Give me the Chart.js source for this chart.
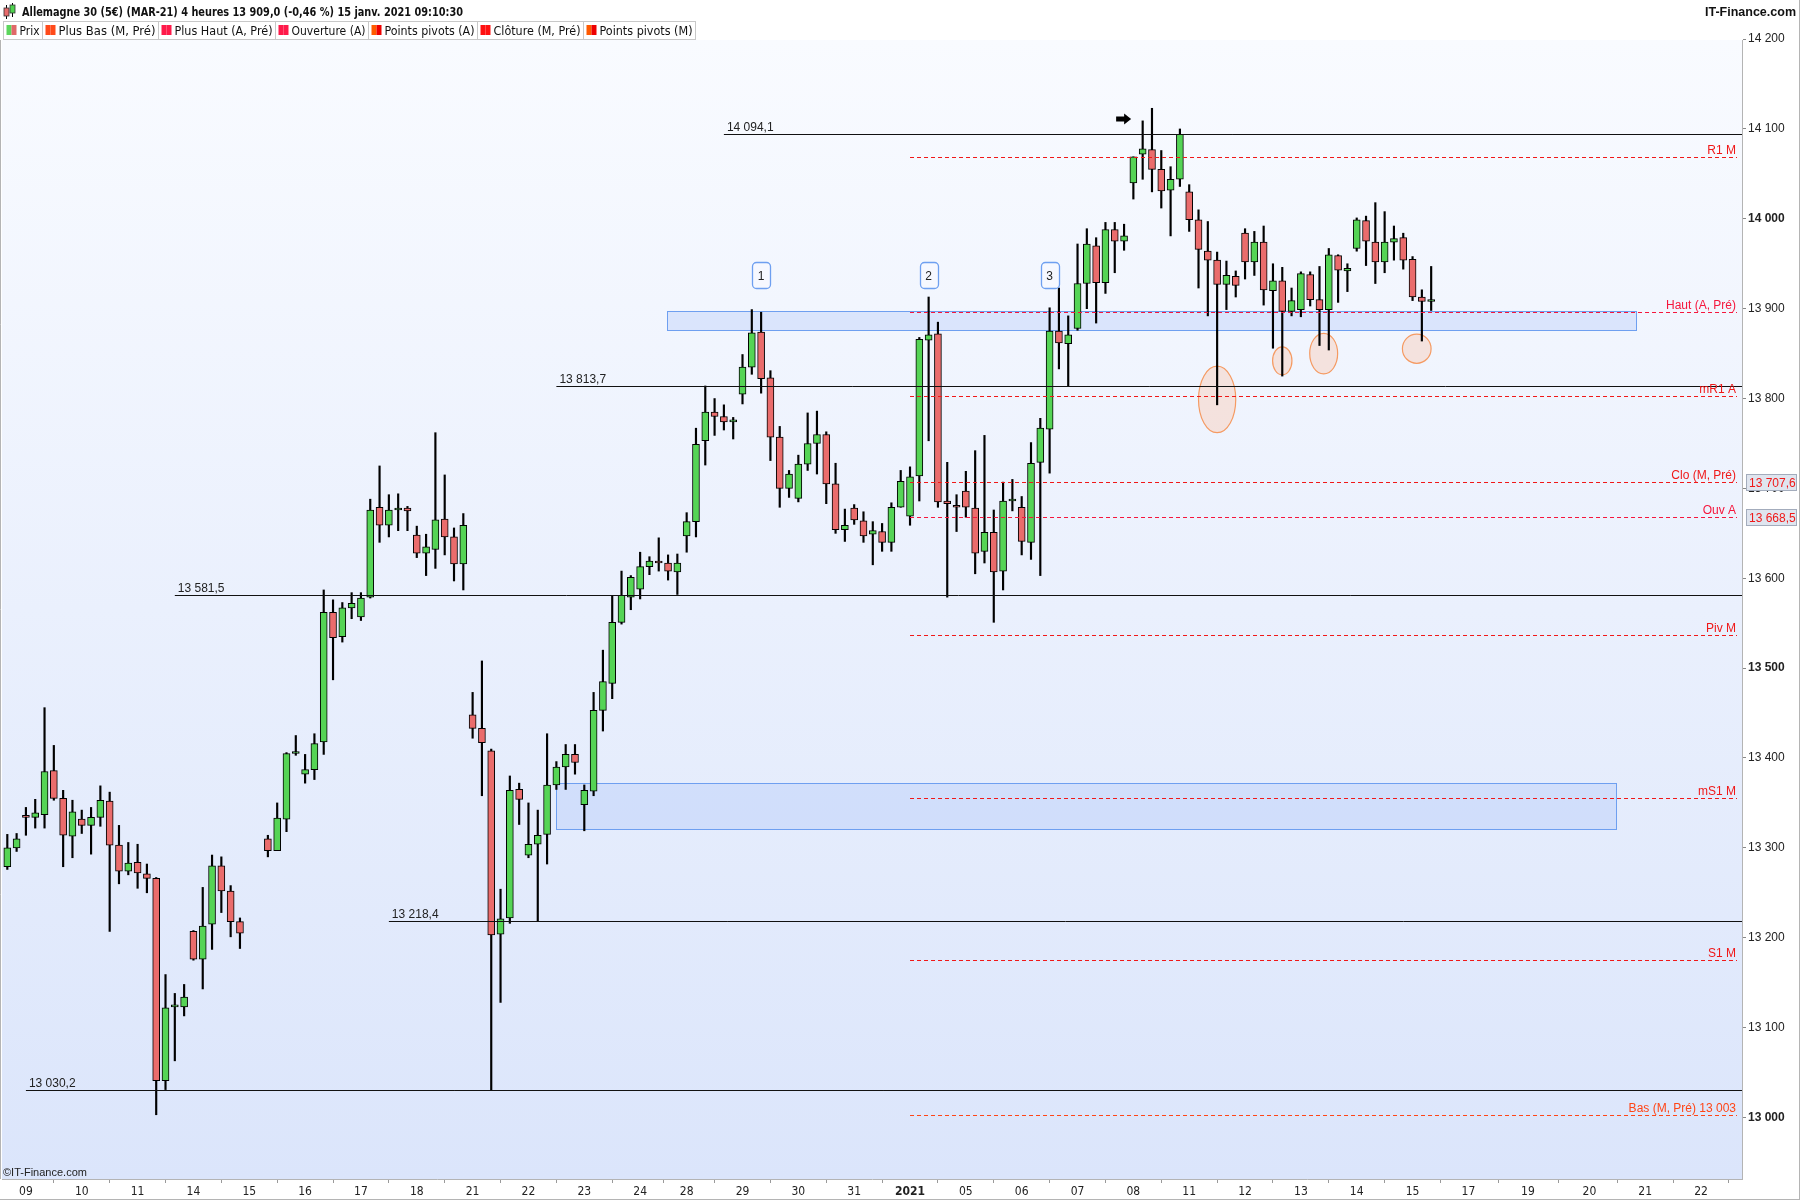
<!DOCTYPE html>
<html>
<head>
<meta charset="utf-8">
<script src="https://cdn.jsdelivr.net/npm/chart.js@4.4.1/dist/chart.umd.min.js"></script>
<style>
  html, body { margin: 0; padding: 0; background: #fff; }
  #wrap { width: 1800px; height: 1200px; position: relative; }
</style>
</head>
<body>
<div id="wrap"><canvas id="chart" width="1800" height="1200"></canvas></div>
<script>
// 4h candles, x = candle slot (6 per trading day)
const slots = [0,1,2,3,4,5,6,7,8,9,10,11,12,13,14,15,16,17,18,19,20,21,22,23,24,25,
  28,29,30,31,32,33,34,35,36,37,38,39,40,41,42,43,44,45,46,47,48,49,
  50,51,52,53,54,55,56,57,58,59,60,61,62,63,64,65,66,67,68,69,70,71,72,
  73,74,75,76,77,78,79,80,81,82,83,84,85,86,87,88,89,90,91,92,93,94,95,96,
  97,98,99,100,101,102,103,104,105,106,107,108,109,110,111,112,113,114,115,116,117,118,119,120,
  121,122,123,124,125,126,127,128,129,130,131,132,133,134,135,136,137,138,139,140,141,142,143,144,145,146,147,148,149,150,151,152,153];
const opens = [13279,13300,13336,13334,13337,13386,13355,13313,13332,13325,13334,13352,13303,13274,13284,13271,13266,13041,13123,13123,13207,13176,13215,13280,13252,13218,
  13310,13297,13332,13405,13382,13387,13418,13562,13535,13567,13557,13579,13679,13659,13676,13678,13648,13628,13632,13666,13646,13616,
  13448,13433,13408,13204,13222,13365,13292,13304,13315,13370,13390,13404,13348,13363,13453,13483,13551,13579,13588,13613,13618,13617,13607,
  13647,13663,13753,13785,13780,13774,13805,13835,13874,13823,13757,13700,13689,13727,13750,13760,13705,13654,13678,13664,13649,13652,13640,13679,
  13669,13714,13865,13872,13686,13680,13697,13678,13630,13651,13608,13686,13679,13640,13729,13766,13875,13861,13878,13928,13970,13929,13988,13975,
  14040,14072,14077,14055,14032,14044,14030,13999,13964,13954,13927,13936,13984,13952,13974,13920,13931,13897,13899,13938,13910,13899,13959,13942,13967,13998,13974,13952,13974,13979,13955,13913,13908];
const highs = [13315,13316,13345,13354,13456,13414,13364,13353,13342,13345,13369,13362,13325,13306,13304,13282,13267,13159,13138,13148,13208,13256,13292,13290,13258,13222,
  13314,13350,13406,13425,13404,13427,13587,13576,13573,13584,13584,13688,13725,13693,13694,13680,13658,13649,13762,13715,13656,13672,
  13473,13508,13410,13254,13380,13372,13350,13342,13427,13396,13415,13415,13370,13473,13520,13581,13608,13603,13629,13624,13645,13626,13627,
  13673,13767,13814,13800,13793,13779,13849,13899,13896,13831,13769,13720,13737,13784,13786,13763,13728,13677,13682,13674,13663,13661,13684,13720,
  13724,13868,13913,13885,13729,13693,13719,13742,13759,13676,13707,13710,13691,13751,13778,13901,13923,13892,13972,13989,13979,13996,13996,13994,
  14069,14109,14123,14076,14058,14100,14038,14010,13997,13963,13953,13942,13989,13986,13992,13950,13946,13923,13941,13941,13947,13967,13960,13950,14001,14003,14018,14008,13992,13984,13958,13921,13947];
const lows = [13276,13296,13314,13322,13322,13353,13279,13289,13316,13293,13324,13207,13260,13270,13255,13250,13003,13031,13063,13113,13175,13143,13187,13228,13201,13188,
  13290,13297,13318,13403,13372,13376,13404,13487,13529,13555,13553,13578,13640,13646,13653,13653,13623,13603,13611,13626,13597,13587,
  13422,13358,13030,13128,13216,13326,13289,13218,13282,13365,13365,13382,13319,13358,13430,13466,13549,13565,13577,13604,13608,13598,13582,
  13629,13646,13726,13759,13765,13755,13794,13827,13806,13731,13679,13690,13685,13720,13716,13683,13650,13641,13660,13640,13615,13630,13630,13679,
  13659,13686,13753,13679,13579,13652,13668,13605,13617,13551,13587,13675,13626,13621,13603,13717,13833,13814,13876,13900,13884,13917,13940,13965,
  14022,14044,14030,14012,13981,14036,13986,13923,13892,13793,13899,13913,13933,13937,13904,13856,13825,13892,13891,13903,13859,13854,13907,13919,13964,13948,13928,13940,13954,13944,13909,13864,13898];
const closes = [13300,13310,13334,13339,13385,13355,13314,13340,13325,13334,13353,13303,13274,13283,13272,13266,13041,13122,13124,13134,13176,13213,13280,13252,13218,13205,
  13297,13333,13405,13407,13387,13416,13562,13534,13567,13572,13578,13676,13659,13676,13678,13675,13628,13635,13665,13646,13616,13659,
  13433,13417,13203,13221,13364,13354,13304,13314,13370,13390,13404,13395,13364,13453,13485,13551,13581,13601,13613,13619,13617,13608,13617,
  13663,13749,13785,13780,13774,13775,13835,13873,13822,13757,13700,13716,13727,13750,13760,13705,13654,13659,13665,13647,13653,13640,13679,13708,
  13713,13866,13871,13685,13683,13679,13679,13628,13651,13607,13686,13687,13641,13728,13767,13875,13862,13871,13928,13972,13929,13988,13975,13981,
  14069,14078,14055,14031,14044,14094,13999,13966,13954,13927,13937,13926,13952,13974,13921,13931,13897,13909,13939,13910,13899,13960,13943,13945,13999,13975,13952,13974,13978,13954,13913,13908,13909];

// axis labels
const dayTicks = [2,8,14,20,26,32,38,44,50,56,62,68,73,79,85,91,97,103,109,115,121,127,133,139,145,151,157,163.4,170,176,182];
const dayLabels = ['09','10','11','14','15','16','17','18','21','22','23','24','28','29','30','31','2021','05','06','07','08','11','12','13','14','15','17','19','20','21','22'];
const priceTicks = [13000,13100,13200,13300,13400,13500,13600,13700,13800,13900,14000,14100,14200];
const boldPrices = [13000,13500,14000];

// support / resistance levels (solid)
const levelValues = [14094.1, 13813.7, 13581.5, 13218.4, 13030.2];
const levelStarts = [77, 59, 18, 41, 2];

// pivot levels (dashed)
const pivotNames = ['R1 M','Haut (A, Pré)','mR1 A','Clo (M, Pré)','Ouv A','Piv M','mS1 M','S1 M','Bas (M, Pré) 13 003'];
const pivotValues = [14068.5, 13896.5, 13803, 13707.6, 13668.5, 13537, 13355.6, 13175.5, 13003];
const pivotColors = ['#f01818','#f5163c','#f01818','#f01818','#f5163c','#f01818','#f01818','#f01818','#ff4516'];
const pivotStart = 97;
const priceTags = [13707.6, 13668.5];

// zones
const zoneFrom = [70.9, 59];
const zoneTo = [175, 172.9];
const zoneHigh = [13897, 13372];
const zoneLow = [13876, 13321];

// ellipses on wicks
const ovalSlots = [130, 137, 141.45, 151.45];
const ovalPrices = [13799, 13842, 13850, 13855.5];
const ovalHalfSlots = [2.0, 1.04, 1.5, 1.54];
const ovalHalfPts = [37, 15.6, 22.6, 16.3];

// numbered markers, arrow
const markerSlots = [81, 99, 112];
const markerTexts = ['1', '2', '3'];
const markerPrice = 13937;
const arrowSlot = 119.9, arrowPrice = 14111;

const sans = '"Liberation Sans", Arial, sans-serif';
const narrow = '"Liberation Sans Narrow", "DejaVu Sans Condensed", "Liberation Sans", sans-serif';

function frNum(v, d) {
  const s = v.toFixed(d).split('.');
  const ip = s[0].replace(/\B(?=(\d{3})+(?!\d))/g, ' ');
  return s.length > 1 ? ip + ',' + s[1] : ip;
}

function fitText(ctx, txt, x, y, w) {
  const m = ctx.measureText(txt).width;
  ctx.save();
  ctx.translate(x, y);
  ctx.scale(w / m, 1);
  ctx.textAlign = 'left';
  ctx.fillText(txt, 0, 0);
  ctx.restore();
}

const deco = {
  id: 'deco',
  beforeDraw(chart) {
    const { ctx, chartArea: a } = chart;
    ctx.save();
    ctx.fillStyle = '#fff';
    ctx.fillRect(0, 0, chart.width, chart.height);
    const g = ctx.createLinearGradient(0, a.top, 0, a.bottom);
    g.addColorStop(0, '#f9fbff');
    g.addColorStop(1, '#dbe5fb');
    ctx.fillStyle = g;
    ctx.fillRect(a.left, a.top, a.right - a.left, a.bottom - a.top);
    ctx.restore();
  },
  beforeDatasetsDraw(chart) {
    const { ctx, chartArea: a } = chart;
    const xs = chart.scales.x, ys = chart.scales.y;
    ctx.save();
    ctx.beginPath(); ctx.rect(a.left, a.top, a.right - a.left, a.bottom - a.top); ctx.clip();
    // zones
    zoneFrom.forEach((f, i) => {
      const x1 = Math.round(xs.getPixelForValue(f)) + 0.5;
      const x2 = Math.round(xs.getPixelForValue(zoneTo[i])) + 0.5;
      const y1 = Math.round(ys.getPixelForValue(zoneHigh[i])) + 0.5;
      const y2 = Math.round(ys.getPixelForValue(zoneLow[i])) + 0.5;
      ctx.fillStyle = 'rgba(155,186,246,0.27)';
      ctx.fillRect(x1, y1, x2 - x1, y2 - y1);
      ctx.strokeStyle = '#6e9ff0';
      ctx.lineWidth = 1;
      ctx.strokeRect(x1, y1, x2 - x1, y2 - y1);
    });
    // ellipses
    ovalSlots.forEach((s, i) => {
      const cx = xs.getPixelForValue(s), cy = ys.getPixelForValue(ovalPrices[i]);
      const rx = xs.getPixelForValue(s + ovalHalfSlots[i]) - cx;
      const ry = ys.getPixelForValue(ovalPrices[i] - ovalHalfPts[i]) - cy;
      ctx.beginPath();
      ctx.ellipse(cx, cy, rx, ry, 0, 0, Math.PI * 2);
      ctx.fillStyle = 'rgba(246,214,200,0.6)';
      ctx.fill();
      ctx.strokeStyle = '#f59a62';
      ctx.lineWidth = 1.2;
      ctx.stroke();
    });
    ctx.restore();
  },
  afterDatasetsDraw(chart) {
    const { ctx, chartArea: a } = chart;
    const xs = chart.scales.x, ys = chart.scales.y;
    ctx.save();
    // solid levels
    ctx.font = '12px ' + sans;
    levelValues.forEach((v, i) => {
      const y = Math.round(ys.getPixelForValue(v)) + 0.5;
      const x = xs.getPixelForValue(levelStarts[i]);
      ctx.strokeStyle = '#111';
      ctx.lineWidth = 1;
      ctx.setLineDash([]);
      ctx.beginPath(); ctx.moveTo(x, y); ctx.lineTo(a.right, y); ctx.stroke();
      ctx.fillStyle = '#222';
      ctx.textAlign = 'left';
      ctx.fillText(frNum(v, 1), x + 3, y - 4);
    });
    // dashed pivots
    pivotValues.forEach((v, i) => {
      const y = Math.round(ys.getPixelForValue(v)) + 0.5;
      const x = xs.getPixelForValue(pivotStart);
      ctx.strokeStyle = pivotColors[i];
      ctx.lineWidth = 1;
      ctx.setLineDash([4, 3]);
      ctx.beginPath(); ctx.moveTo(x, y); ctx.lineTo(a.right - 5, y); ctx.stroke();
      ctx.setLineDash([]);
      ctx.fillStyle = pivotColors[i];
      ctx.textAlign = 'right';
      ctx.fillText(pivotNames[i], a.right - 6, y - 4);
    });
    // numbered markers
    markerSlots.forEach((s, i) => {
      const cx = xs.getPixelForValue(s), cy = ys.getPixelForValue(markerPrice);
      const w = 18, h = 26;
      ctx.beginPath();
      ctx.roundRect(Math.round(cx - w / 2) + 0.5, Math.round(cy - h / 2) + 0.5, w, h, 4);
      ctx.fillStyle = '#f6f8ff';
      ctx.fill();
      ctx.strokeStyle = '#6e9ff0';
      ctx.lineWidth = 1.3;
      ctx.stroke();
      ctx.fillStyle = '#222';
      ctx.textAlign = 'center';
      ctx.textBaseline = 'middle';
      ctx.fillText(markerTexts[i], cx, cy + 1);
      ctx.textBaseline = 'alphabetic';
    });
    // arrow
    const ax = xs.getPixelForValue(arrowSlot), ay = ys.getPixelForValue(arrowPrice);
    ctx.fillStyle = '#000';
    ctx.beginPath();
    ctx.moveTo(ax - 7, ay - 2.5); ctx.lineTo(ax + 1, ay - 2.5); ctx.lineTo(ax + 1, ay - 5.5);
    ctx.lineTo(ax + 8, ay); ctx.lineTo(ax + 1, ay + 5.5); ctx.lineTo(ax + 1, ay + 2.5);
    ctx.lineTo(ax - 7, ay + 2.5); ctx.closePath(); ctx.fill();
    ctx.restore();
  },
  afterDraw(chart) {
    const { ctx, chartArea: a } = chart;
    const ys = chart.scales.y;
    ctx.save();
    // price tags on the right axis
    ctx.font = '12px ' + sans;
    priceTags.forEach(v => {
      const y = Math.round(ys.getPixelForValue(v));
      ctx.fillStyle = '#dfe5ef';
      ctx.fillRect(a.right + 4.5, y - 7.5, 50, 16);
      ctx.strokeStyle = '#a3acbc';
      ctx.lineWidth = 1;
      ctx.strokeRect(a.right + 4.5, y - 7.5, 50, 16);
      ctx.fillStyle = '#f01818';
      ctx.textAlign = 'left';
      ctx.fillText(frNum(v, 1), a.right + 7, y + 5);
    });
    // frame
    ctx.strokeStyle = '#b4b4b4';
    ctx.beginPath();
    ctx.moveTo(0.5, a.top); ctx.lineTo(0.5, a.bottom);
    ctx.moveTo(0, 1199.5); ctx.lineTo(1800, 1199.5);
    ctx.moveTo(1799.5, 0); ctx.lineTo(1799.5, 1200);
    ctx.stroke();
    // header icon
    ctx.fillStyle = '#000';
    ctx.fillRect(6, 5, 1, 14); ctx.fillRect(12, 3, 1, 14);
    ctx.fillStyle = '#e86c6c'; ctx.fillRect(4, 8, 5, 8);
    ctx.fillStyle = '#4fd24f'; ctx.fillRect(10, 5, 5, 8);
    ctx.strokeStyle = '#333'; ctx.lineWidth = 0.8;
    ctx.strokeRect(4, 8, 5, 8); ctx.strokeRect(10, 5, 5, 8);
    // title
    ctx.fillStyle = '#111';
    ctx.font = 'bold 12px ' + narrow;
    fitText(ctx, 'Allemagne 30 (5€) (MAR-21) 4 heures 13 909,0 (-0,46 %) 15 janv. 2021 09:10:30', 22, 16, 441);
    ctx.font = 'bold 12px ' + sans;
    fitText(ctx, 'IT-Finance.com', 1705, 16, 91);
    // legend row
    const cells = [3.5, 42.5, 158.5, 275.5, 368.5, 477.5, 583.5, 695.5];
    const names = ['Prix', 'Plus Bas (M, Pré)', 'Plus Haut (A, Pré)', 'Ouverture (A)', 'Points pivots (A)', 'Clôture (M, Pré)', 'Points pivots (M)'];
    const colA = ['#5cd65c', '#ff4a1a', '#ff1a4a', '#ff1a4a', '#ff5a00', '#ff1010', '#ff5a00'];
    const colB = ['#e06868', '#ff4a1a', '#ff1a4a', '#ff1a4a', '#ee0000', '#ff1010', '#ee0000'];
    ctx.font = '12px ' + narrow;
    for (let i = 0; i < names.length; i++) {
      const l = cells[i], r = cells[i + 1];
      ctx.strokeStyle = '#c8c8c8';
      ctx.lineWidth = 1;
      ctx.strokeRect(l, 21.5, r - l, 18);
      ctx.fillStyle = colA[i]; ctx.fillRect(l + 3, 25, 5, 10);
      ctx.fillStyle = colB[i]; ctx.fillRect(l + 8, 25, 5, 10);
      ctx.fillStyle = '#111';
      fitText(ctx, names[i], l + 16, 35, r - l - 19);
    }
    // copyright
    ctx.font = '11px ' + sans;
    ctx.fillStyle = '#222';
    ctx.textAlign = 'left';
    ctx.fillText('©IT-Finance.com', 3, 1176);
    ctx.restore();
  }
};

const bodyColors = closes.map((c, i) => c >= opens[i] ? '#55d455' : '#ea6c6c');

new Chart(document.getElementById('chart').getContext('2d'), {
  type: 'bar',
  data: {
    datasets: [
      {
        label: 'Prix',
        data: slots.map((s, i) => ({ x: s, y: [opens[i], closes[i]] })),
        backgroundColor: bodyColors,
        borderColor: '#000',
        borderWidth: 1,
        borderSkipped: false,
        barThickness: 7,
        minBarLength: 2,
        grouped: false,
        order: 0
      },
      {
        label: 'Mèches',
        data: slots.map((s, i) => ({ x: s, y: [lows[i], highs[i]] })),
        backgroundColor: '#000',
        borderWidth: 0,
        barThickness: 1.5,
        grouped: false,
        order: 1
      }
    ]
  },
  options: {
    responsive: false,
    devicePixelRatio: 1,
    animation: false,
    events: [],
    layout: { padding: { top: 40, left: 2, right: 0, bottom: 1 } },
    plugins: { legend: { display: false }, tooltip: { enabled: false } },
    scales: {
      x: {
        type: 'linear',
        min: -0.57,
        max: 186.4,
        offset: false,
        afterBuildTicks: ax => { ax.ticks = dayTicks.map(v => ({ value: v })); },
        afterFit: ax => { ax.height = 20; },
        grid: { drawOnChartArea: false, tickLength: 4, color: '#9a9a9a' },
        border: { color: '#b4b4b4' },
        ticks: {
          autoSkip: false,
          maxRotation: 0,
          padding: 2,
          color: '#222',
          font: c => ({ family: narrow, size: 12, weight: (c.tick && c.tick.value === 97) ? 'bold' : 'normal' }),
          callback: (v, i) => dayLabels[i]
        }
      },
      y: {
        type: 'linear',
        position: 'right',
        min: 12931.5,
        max: 14199,
        afterBuildTicks: ax => { ax.ticks = priceTicks.map(v => ({ value: v })); },
        afterFit: ax => { ax.width = 58; },
        grid: { drawOnChartArea: false, tickLength: 4, color: '#888' },
        border: { color: '#b4b4b4' },
        ticks: {
          padding: 2,
          color: '#222',
          font: c => ({ family: sans, size: 12, weight: (c.tick && boldPrices.includes(c.tick.value)) ? 'bold' : 'normal' }),
          callback: v => frNum(v, 0)
        }
      }
    }
  },
  plugins: [deco]
});
</script>
</body>
</html>
